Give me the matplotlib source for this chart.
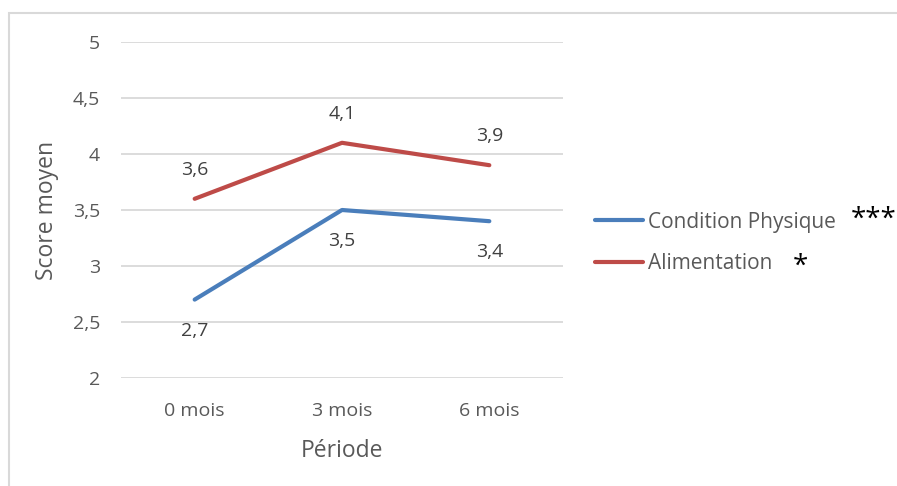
import matplotlib.pyplot as plt
from matplotlib.patches import Rectangle

periods = ["0 mois", "3 mois", "6 mois"]
condition = [2.7, 3.5, 3.4]
alimentation = [3.6, 4.1, 3.9]
y_ticks = [2, 2.5, 3, 3.5, 4, 4.5, 5]

blue = "#4A7EBB"
red = "#BE4B48"
grey = "#595959"
W, H = 897, 486

plt.rcParams["font.family"] = ["Open Sans", "DejaVu Sans"]

fig = plt.figure(figsize=(W / 100, H / 100), dpi=100)
ax = fig.add_axes([121 / W, 1 - 378 / H, (563 - 121) / W, (378 - 42) / H])

x = list(range(len(periods)))
l1, = ax.plot(x, condition, color=blue, lw=3, solid_capstyle="round")
l2, = ax.plot(x, alimentation, color=red, lw=3, solid_capstyle="round")

def fmt(v):
    return ("%g" % v).replace(".", ",")

for i, v in enumerate(condition):
    ax.annotate(fmt(v), (i, v), xytext=(0, -22.5), textcoords="offset points",
                ha="center", va="center", fontsize=14, color="#404040")
for i, v in enumerate(alimentation):
    ax.annotate(fmt(v), (i, v), xytext=(0, 21), textcoords="offset points",
                ha="center", va="center", fontsize=14, color="#404040")

ax.set_xlim(-0.5, 2.5)
ax.set_ylim(2, 5)
ax.set_yticks(y_ticks)
ax.set_yticklabels([fmt(t) for t in y_ticks])
ax.set_xticks(x)
ax.set_xticklabels(periods)
ax.tick_params(length=0, labelsize=14, colors=grey, pad=15)
ax.tick_params(axis="x", pad=17)
ax.grid(axis="y", color="#D9D9D9", lw=1.3)
ax.set_axisbelow(True)
for s in ax.spines.values():
    s.set_visible(False)

ax.set_xlabel("Période", fontsize=16.5, color=grey, labelpad=14)
ax.set_ylabel("Score moyen", fontsize=16.5, color=grey, labelpad=10)

leg = fig.legend([l1, l2], ["Condition Physique", "Alimentation"],
                 loc="center left", bbox_to_anchor=(595 / W, 1 - 243 / H),
                 frameon=False, fontsize=15, labelcolor=grey,
                 handlelength=2.3, handletextpad=0.22, labelspacing=0.98,
                 borderpad=0, borderaxespad=0)

# significance stars next to the legend entries
fig.text(851 / W, 1 - 220 / H, "***", fontsize=20, color="black", ha="left", va="center")
fig.text(793 / W, 1 - 267 / H, "*", fontsize=20, color="black", ha="left", va="center")

fig.patches.append(Rectangle((8.5 / W, -0.1), 1.2, 1 - 13 / H + 0.1,
                             transform=fig.transFigure, fill=False,
                             edgecolor="#D9D9D9", lw=1.5))

fig.savefig("out.png", dpi=100)
